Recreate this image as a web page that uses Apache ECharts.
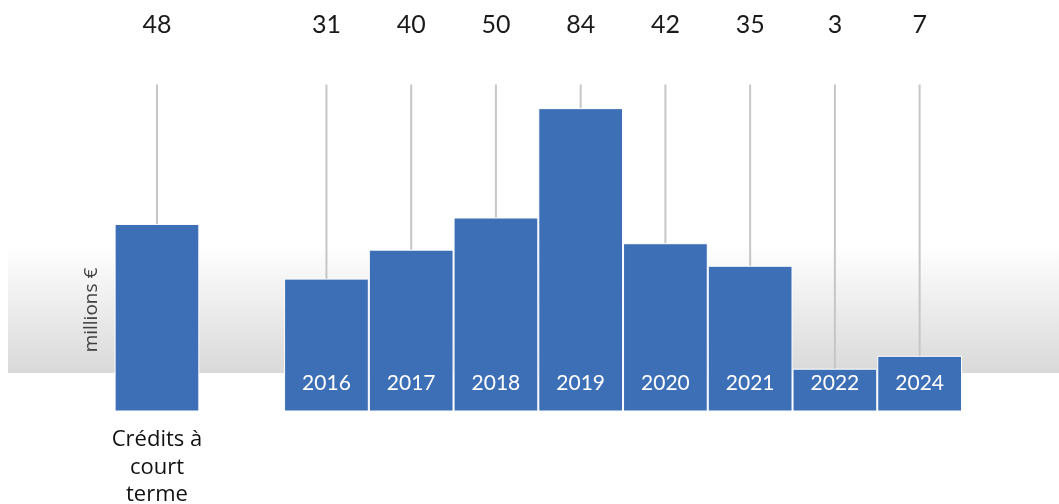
<!DOCTYPE html>
<html>
<head>
<meta charset="utf-8">
<script src="https://cdn.jsdelivr.net/npm/echarts@6/dist/echarts.min.js"></script>
<style>html,body{margin:0;padding:0;background:#fff;}#c{width:1059px;height:504px;}</style>
</head>
<body>
<div id="c"></div>
<script>
const categories = ['Crédits à\ncourt\nterme', '', '2016', '2017', '2018', '2019', '2020', '2021', '2022', '2024'];
const values = [48, null, 31, 40, 50, 84, 42, 35, 3, 7];
const belowZero = -10;      // bars extend below the zero line to host year labels
const lineTop = 91.5;       // value where the grey guide lines end
const labelLevel = 110;     // value where the top numbers sit

const BLUE = '#3d6fb6';
const chart = echarts.init(document.getElementById('c'));

chart.setOption({
  animation: false,
  graphic: [
    {
      type: 'rect', z: -10,
      shape: { x: 8, y: 245, width: 1051, height: 128 },
      style: {
        fill: new echarts.graphic.LinearGradient(0, 0, 0, 1, [
          { offset: 0, color: '#ffffff' },
          { offset: 1, color: '#d9d9d9' }
        ])
      }
    },
    {
      type: 'text', x: 92, y: 310, rotation: Math.PI / 2, z: 10,
      style: { text: 'millions €', fill: '#404040', font: '19px "Open Sans", sans-serif', align: 'center', verticalAlign: 'middle' }
    }
  ],
  grid: { left: 114.6, right: 1059 - 962, top: 25, bottom: 93, containLabel: false, outerBoundsMode: 'none' },
  xAxis: {
    type: 'category', data: categories,
    axisLine: { show: false }, axisTick: { show: false },
    axisLabel: {
      interval: 0, margin: 15,
      formatter: (v, i) => i === 0 ? v : '',
      color: '#111', fontSize: 22, lineHeight: 27.5,
      fontFamily: '"Open Sans", sans-serif'
    }
  },
  yAxis: {
    type: 'value', min: belowZero, max: labelLevel,
    show: false, splitLine: { show: false }
  },
  series: [
    {
      type: 'custom',
      renderItem: (params, api) => {
        const i = api.value(0);
        const v = api.value(1);
        if (v == null || isNaN(v)) return null;
        const w = api.size([1, 0])[0];
        const top = api.coord([i, v]);
        const bot = api.coord([i, belowZero]);
        const p1 = api.coord([i, lineTop]);
        const pt = api.coord([i, labelLevel]);
        const children = [
          { type: 'line', shape: { x1: top[0], y1: top[1], x2: p1[0], y2: p1[1] }, style: { stroke: '#c6c6c6', lineWidth: 2 } },
          { type: 'rect', shape: { x: top[0] - w / 2 + 0.5, y: top[1], width: w - 1, height: bot[1] - top[1] }, style: { fill: BLUE, stroke: '#fff', lineWidth: 1 } },
          { type: 'text', x: pt[0], y: pt[1], style: { text: String(v), fill: '#1a1a1a', font: '25px Lato, sans-serif', align: 'center', verticalAlign: 'middle' } }
        ];
        if (i > 0) {
          children.push({ type: 'text', x: bot[0], y: bot[1] - 28, style: { text: categories[i], fill: '#fff', font: '21px Lato, sans-serif', align: 'center', verticalAlign: 'middle' } });
        }
        return { type: 'group', children };
      },
      data: values.map((v, i) => [i, v])
    }
  ]
});
</script>
</body>
</html>
